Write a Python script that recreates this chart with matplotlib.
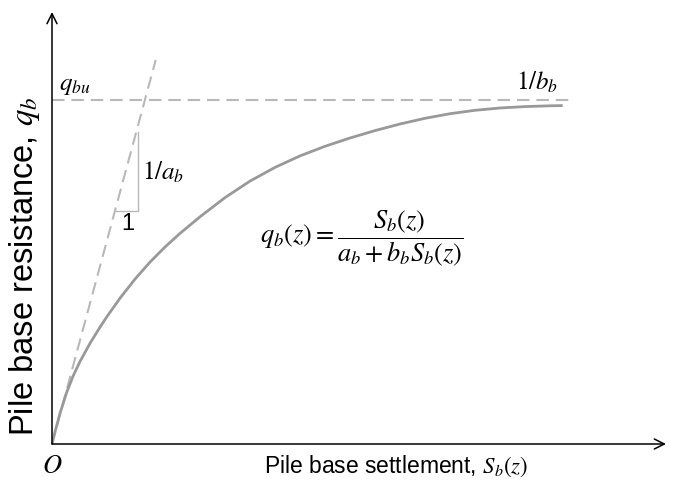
import numpy as np
from matplotlib import pyplot as plt

plt.rcParams['mathtext.fontset'] = 'stix'
plt.rcParams['font.family'] = ['Liberation Sans', 'DejaVu Sans']

# load-settlement curve (arbitrary units)
settlement = [0.0, 0.03, 0.08, 0.147, 0.213, 0.28, 0.38, 0.48, 0.547, 0.68, 0.83,
              0.98, 1.13, 1.28, 1.48, 1.73, 1.98, 2.23, 2.48, 2.73, 2.98, 3.23,
              3.48, 3.73, 3.98, 4.23, 4.48, 4.73, 4.98, 5.107]
resistance = [0.0, 0.121, 0.306, 0.517, 0.684, 0.825, 1.007, 1.168, 1.27, 1.458, 1.649,
              1.819, 1.97, 2.106, 2.272, 2.464, 2.629, 2.766, 2.881, 2.977, 3.06, 3.134,
              3.20, 3.257, 3.303, 3.337, 3.36, 3.374, 3.382, 3.384]

# initial tangent (slope 1/a_b) and ultimate resistance (1/b_b)
tangent_s = [0.0, 1.037]
tangent_q = [0.0, 3.84]
q_ult = 3.44
asym_s = [0.0, 5.2]

# slope triangle
tri_s = [0.637, 0.857, 0.857]
tri_q = [2.33, 2.33, 3.125]

fig = plt.figure(figsize=(6.82, 4.83), dpi=100)
ax = fig.add_axes([52 / 682, 39 / 483, 614 / 682, 432 / 483])
ax.set_xlim(0, 6.14)
ax.set_ylim(0, 4.32)
for sp in ax.spines.values():
    sp.set_visible(False)
ax.set_xticks([])
ax.set_yticks([])

arrow = dict(arrowstyle='->', lw=1.1, color='black', shrinkA=0, shrinkB=0,
             mutation_scale=18)
ax.annotate('', xy=(1, 0), xytext=(0, 0), xycoords='axes fraction', arrowprops=arrow)
ax.annotate('', xy=(0, 1), xytext=(0, 0), xycoords='axes fraction', arrowprops=arrow)

ax.plot(tangent_s, tangent_q, color='#b8b8b8', lw=1.5, dashes=(6, 3.3), clip_on=False)
ax.plot(asym_s, [q_ult, q_ult], color='#b8b8b8', lw=1.5, dashes=(6, 3.3), clip_on=False)
ax.plot(tri_s, tri_q, color='#b8b8b8', lw=1.0)
ax.plot(settlement, resistance, color='#999999', lw=2.0, solid_capstyle='butt',
        solid_joinstyle='round')

ax.text(0.23, 3.59, r'$q_{bu}$', fontsize=18, ha='center', va='center')
ax.text(0.895, 2.72, r'$1/a_b$', fontsize=18, ha='left', va='center')
ax.text(0.76, 2.205, '1', fontsize=17, ha='center', va='center')
ax.text(4.85, 3.62, r'$1/b_b$', fontsize=18, ha='center', va='center')
ax.text(3.10, 2.06, r'$q_b(z)=\dfrac{S_b(z)}{a_b+b_bS_b(z)}$', fontsize=19,
        ha='center', va='center')
ax.text(0.0, -0.22, r'$O$', fontsize=19, ha='center', va='center', clip_on=False)

ax.text(3.44, -0.22, r'Pile base settlement, $S_b(z)$', fontsize=16.5,
        ha='center', va='center', clip_on=False)
ax.text(-0.27, 1.78, r'Pile base resistance, $q_b$', fontsize=23.5, rotation=90,
        ha='center', va='center', clip_on=False)

fig.savefig('out.png', dpi=100)
